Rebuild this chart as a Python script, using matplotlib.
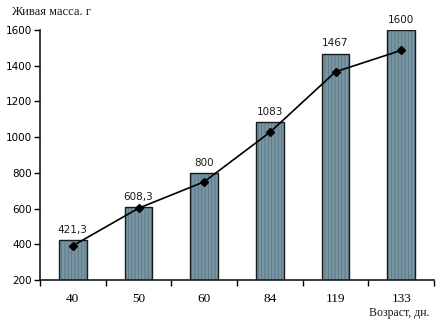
import numpy as np
import matplotlib
matplotlib.use("Agg")
import matplotlib.pyplot as plt

# data
ages = ["40", "50", "60", "84", "119", "133"]
mass = [421.3, 608.3, 800, 1083, 1467, 1600]
mass_labels = ["421,3", "608,3", "800", "1083", "1467", "1600"]
trend = [392, 602, 750, 1027, 1366, 1486]

plt.rcParams['hatch.linewidth'] = 0.6

fig = plt.figure(figsize=(4.48, 3.22), dpi=100)
ax = fig.add_axes([0.0893, 0.1304, 0.8795, 0.7764])

x = np.arange(len(ages))
# striped fill, then outline on top
ax.bar(x, mass, width=0.42, bottom=0, color='#7896a3', edgecolor='#5a7582',
       hatch='|||||', linewidth=0, zorder=2)
ax.bar(x, mass, width=0.42, bottom=0, fill=False, edgecolor='#1a1a1a',
       linewidth=1.0, zorder=3)

ax.plot(x, trend, color='black', lw=1.2, marker='D', ms=4.5, zorder=4)

for xi, v, lab in zip(x, mass, mass_labels):
    ax.text(xi, v + 30, lab, ha='center', va='bottom', fontsize=7.5,
            family='DejaVu Sans', color='#1a1a1a')

ax.set_ylim(200, 1600)
ax.set_xlim(-0.5, len(ages) - 0.5)
ax.set_yticks(range(200, 1601, 200))
ax.tick_params(axis='y', labelsize=7.5, length=4, width=1, pad=2)

ax.set_xticks(np.arange(-0.5, len(ages), 1.0))
ax.set_xticklabels([])
ax.set_xticks(x, minor=True)
ax.set_xticklabels(ages, minor=True, family='Liberation Serif', fontsize=9.5)
ax.tick_params(axis='x', which='major', length=4, width=1)
ax.tick_params(axis='x', which='minor', length=0, pad=9)

for s in ['top', 'right']:
    ax.spines[s].set_visible(False)
for s in ['left', 'bottom']:
    ax.spines[s].set_linewidth(1.2)
    ax.spines[s].set_color('#1a1a1a')

fig.text(11 / 448, 1 - 12 / 322, "Живая масса. г", family='Liberation Serif',
         fontsize=9, ha='left', va='center', color='#1a1a1a')
fig.text(429 / 448, 1 - 313 / 322, "Возраст, дн.", family='Liberation Serif',
         fontsize=8.5, ha='right', va='center', color='#1a1a1a')

fig.savefig('out.png', dpi=100)
